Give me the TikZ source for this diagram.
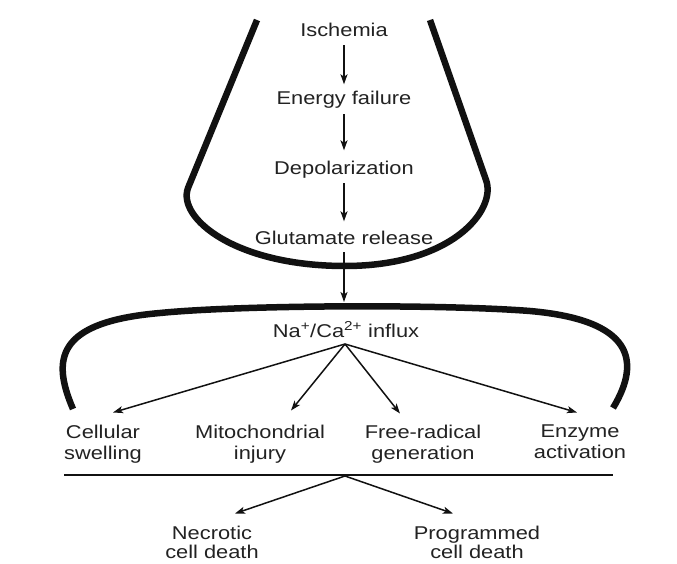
\documentclass[tikz,border=0pt]{standalone}
\usepackage{fontspec}
\setmainfont{Liberation Sans}[FakeStretch=1.18]
\usetikzlibrary{arrows.meta}
\definecolor{txt}{HTML}{222222}
\definecolor{ink}{HTML}{111111}
\begin{document}
\begin{tikzpicture}[x=1pt,y=-1pt,
  lbl/.style={inner sep=0pt, text=txt, font=\fontsize{18.5}{22}\selectfont, text height=13.5pt, text depth=4pt},
  lbl2/.style={inner sep=0pt, text=txt, font=\fontsize{18.5}{21.5}\selectfont, align=center, anchor=north},
  lbl3/.style={inner sep=0pt, text=txt, font=\fontsize{18.5}{19.5}\selectfont, align=center, anchor=north},
  arr/.style={draw=ink, line width=1.5pt, -{Stealth[length=10pt,width=7pt,inset=2.5pt]}},
  band/.style={draw=ink, line width=6.5pt, line cap=butt}]
\useasboundingbox (0,0) rectangle (677,564);
\fill[white] (0,0) rectangle (677,564);
% top chain
\node[lbl, anchor=base] (isch) at (344,37) {Ischemia};
\node[lbl, anchor=base] (energy) at (344,105) {Energy failure};
\node[lbl, anchor=base] (depol) at (344,175) {Depolarization};
\node[lbl, anchor=base] (glut) at (344,244) {Glutamate release};
\node[lbl, anchor=base] (na) at (346,337) {Na\textsuperscript{+}/Ca\textsuperscript{2+} influx};
\draw[arr, shorten <=4pt, shorten >=7pt] (isch.south) -- (energy.north);
\draw[arr, shorten <=5pt, shorten >=11pt] (energy.south) -- (depol.north);
\draw[arr, shorten <=4pt, shorten >=9pt] (depol.south) -- (glut.north);
\coordinate (archtop) at (344,302);
\draw[arr, shorten <=4pt] (glut.south) -- (archtop);
% U-shaped band
\draw[band] (257,20) -- (188,188) .. controls (177,218) and (235,266) .. (345,266)
  .. controls (452,266) and (497,210) .. (486,180) -- (430,20);
% arch band
\draw[band] (73,409) .. controls (52,360) and (55,322) .. (160,313)
  .. controls (240,305) and (440,304) .. (530,311)
  .. controls (632,320) and (642,360) .. (613,408);
% second-level labels
\node[lbl2] (cell) at (103,424.5) {Cellular\\swelling};
\node[lbl2] (mito) at (260,424.5) {Mitochondrial\\injury};
\node[lbl2] (free) at (423,424.5) {Free-radical\\generation};
\node[lbl2] (enz) at (580,424.5) {Enzyme\\activation};
\coordinate (fan1) at (345,344);
\draw[arr] (fan1) -- ([shift={(10,-12)}]cell.north);
\draw[arr] (fan1) -- ([shift={(31,-14)}]mito.north);
\draw[arr] (fan1) -- ([shift={(-23,-11)}]free.north);
\draw[arr] (fan1) -- ([shift={(-3,-12)}]enz.north);
% separator line
\coordinate (hl) at (64,475);
\coordinate (hr) at (613,475);
\draw[ink, line width=1.8pt] (hl) -- (hr);
\coordinate (fan2) at (345,476);
\node[lbl3] (necro) at (212,525.5) {Necrotic\\cell death};
\node[lbl3] (prog) at (477,525.5) {Programmed\\cell death};
\draw[arr] (fan2) -- ([shift={(23,-12)}]necro.north);
\draw[arr] (fan2) -- ([shift={(-24,-12)}]prog.north);
\end{tikzpicture}
\end{document}
